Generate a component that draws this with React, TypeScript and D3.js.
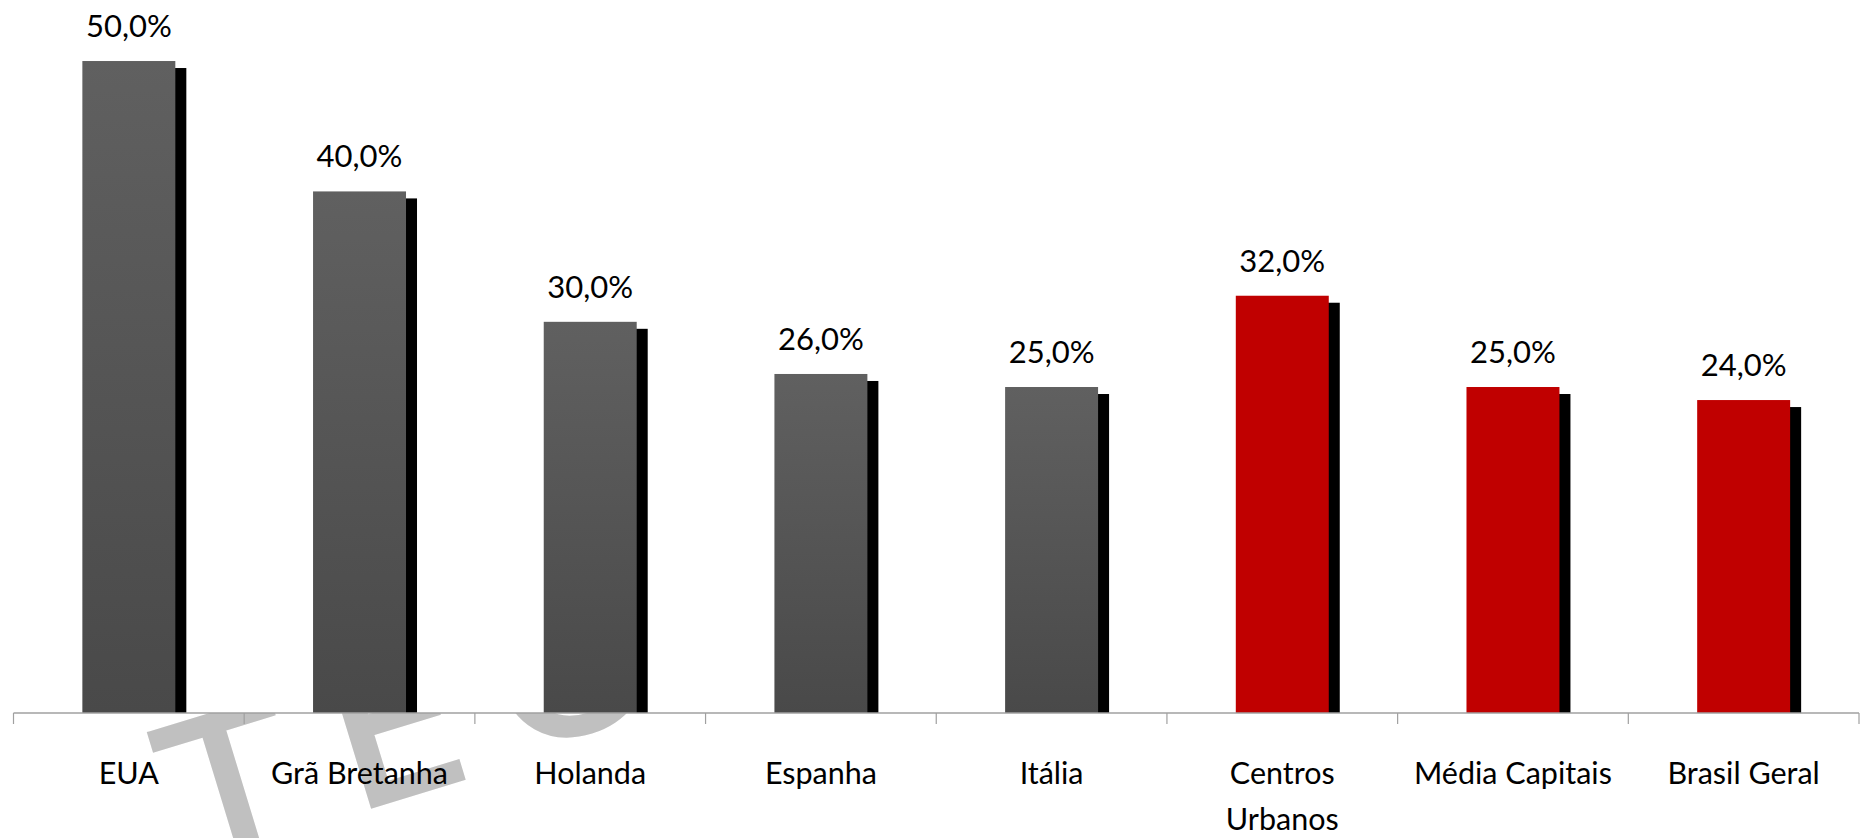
import React from "react";
import * as d3 from "d3";

const categories: string[][] = [
  ["EUA"],
  ["Grã Bretanha"],
  ["Holanda"],
  ["Espanha"],
  ["Itália"],
  ["Centros", "Urbanos"],
  ["Média Capitais"],
  ["Brasil Geral"],
];
const values: number[] = [50, 40, 30, 26, 25, 32, 25, 24];
const isBrazil: boolean[] = [false, false, false, false, false, true, true, true];
const valueLabels: string[] = values.map((v) => v.toFixed(1).replace(".", ",") + "%");
const watermarkLetters: string[] = ["T", "E", "C"];

const W = 1861;
const H = 838;
const axisY = 713;
const left = 13.5;
const right = 1859;
const FONT = "Lato, 'Open Sans', sans-serif";

export default function App() {
  const keys = categories.map((c) => c.join(" "));
  const x = d3.scaleBand<string>().domain(keys).range([left, right]).paddingInner(0).paddingOuter(0);
  const y = d3.scaleLinear().domain([0, 54.68]).range([axisY, 0]);
  const bw = x.bandwidth() * 0.403;
  const boundaries = keys.map((k) => x(k) as number).concat([right]);
  const cx = (k: string) => (x(k) as number) + x.bandwidth() / 2;
  const wmX = [0, 172, 340];
  const wmY = [0, -12, -22];

  return (
    <svg
      width={W}
      height={H}
      viewBox={`0 0 ${W} ${H}`}
      style={{ position: "absolute", left: 0, top: 0, background: "#fff" }}
    >
      <defs>
        <linearGradient id="gray" x1="0" y1="0" x2="0" y2="1">
          <stop offset="0" stopColor="#606060" />
          <stop offset="1" stopColor="#494949" />
        </linearGradient>
        <clipPath id="below">
          <rect x={0} y={axisY} width={W} height={H - axisY} />
        </clipPath>
        <clipPath id="plot">
          <rect x={0} y={0} width={W} height={axisY} />
        </clipPath>
      </defs>
      <rect x={0} y={0} width={W} height={H} fill="#fff" />
      {/* watermark */}
      <g clipPath="url(#below)">
        <text
          transform="translate(193,873) rotate(-17)"
          fontFamily="'DejaVu Sans', sans-serif"
          fontSize={200}
          fill="#c0c0c0"
          stroke="#c0c0c0"
          strokeWidth={5}
          strokeLinejoin="miter"
        >
          {watermarkLetters.map((l, i) => (
            <tspan key={i} x={wmX[i]} y={wmY[i]}>
              {l}
            </tspan>
          ))}
        </text>
      </g>
      {/* shadows */}
      <g clipPath="url(#plot)">
        {keys.map((k, i) => (
          <rect
            key={"s" + i}
            x={cx(k) - bw / 2 + 11}
            y={y(values[i]) + 7}
            width={bw}
            height={axisY - y(values[i])}
            fill="#000"
          />
        ))}
      </g>
      {/* bars */}
      {keys.map((k, i) => (
        <rect
          key={"b" + i}
          x={cx(k) - bw / 2}
          y={y(values[i])}
          width={bw}
          height={axisY - y(values[i])}
          fill={isBrazil[i] ? "#c00000" : "url(#gray)"}
        />
      ))}
      {/* axis */}
      <line x1={left} x2={right} y1={axisY} y2={axisY} stroke="#a0a0a0" strokeWidth={1.5} />
      {boundaries.map((b, i) => (
        <line key={"t" + i} x1={b} x2={b} y1={axisY} y2={axisY + 11} stroke="#a0a0a0" strokeWidth={1.2} />
      ))}
      {/* value labels */}
      {keys.map((k, i) => (
        <text
          key={"v" + i}
          x={cx(k)}
          y={y(values[i]) - 24}
          textAnchor="middle"
          fontFamily={FONT}
          fontSize={31}
          fill="#000"
        >
          {valueLabels[i]}
        </text>
      ))}
      {/* category labels */}
      {categories.map((lines, i) => (
        <text
          key={"c" + i}
          x={cx(keys[i])}
          y={784}
          textAnchor="middle"
          fontFamily={FONT}
          fontSize={30.5}
          fill="#000"
        >
          {lines.map((ln, j) => (
            <tspan key={j} x={cx(keys[i])} dy={j === 0 ? 0 : 46}>
              {ln}
            </tspan>
          ))}
        </text>
      ))}
    </svg>
  );
}
